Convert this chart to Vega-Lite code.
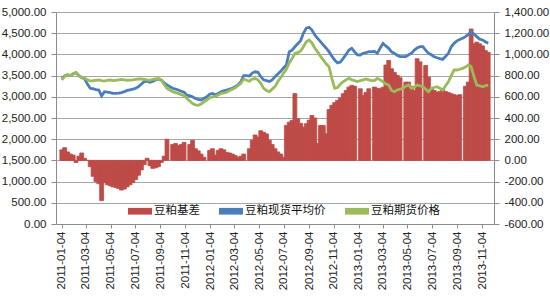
{
  "$schema": "https://vega.github.io/schema/vega-lite/v6.json",
  "width": 438,
  "height": 212,
  "autosize": {"type": "none"},
  "padding": {"left": 56, "top": 12, "right": 56, "bottom": 76},
  "background": "white",
  "config": {
    "view": {"stroke": null},
    "axis": {"labelFont": "Liberation Sans", "labelFontSize": 11.5, "labelColor": "#222", "domainColor": "#8c8c8c", "tickColor": "#8c8c8c", "gridColor": "#a6a6a6", "title": null},
    "legend": {
      "orient": "none", "legendX": 72, "legendY": 187, "direction": "horizontal", "title": null,
      "padding": 0, "columnPadding": 19, "labelOffset": 2, "symbolSize": 576,
      "labelFont": "Noto Sans CJK SC", "labelFontSize": 11.5, "labelColor": "#111",
      "symbolType": "M-1,-0.28H1V0.28H-1Z",
      "symbolStrokeWidth": 0
    }
  },
  "data": {"values": [
    {"d":"2011-01-04","s":3430,"f":3400,"b":100},
    {"d":"2011-01-11","s":3490,"f":3480,"b":120},
    {"d":"2011-01-18","s":3520,"f":3510,"b":80},
    {"d":"2011-01-25","s":3500,"f":3500,"b":60},
    {"d":"2011-02-01","s":3540,"f":3550,"b":50},
    {"d":"2011-02-08","s":3570,"f":3570,"b":-20},
    {"d":"2011-02-15","s":3500,"f":3500,"b":40},
    {"d":"2011-02-22","s":3450,"f":3460,"b":70},
    {"d":"2011-03-01","s":3430,"f":3440,"b":20},
    {"d":"2011-03-08","s":3300,"f":3400,"b":0},
    {"d":"2011-03-15","s":3200,"f":3370,"b":-60},
    {"d":"2011-03-22","s":3190,"f":3380,"b":-150},
    {"d":"2011-03-29","s":3170,"f":3390,"b":-200},
    {"d":"2011-04-05","s":3160,"f":3400,"b":-220},
    {"d":"2011-04-12","s":3020,"f":3380,"b":-380},
    {"d":"2011-04-19","s":3120,"f":3370,"b":-210},
    {"d":"2011-04-26","s":3110,"f":3390,"b":-230},
    {"d":"2011-05-03","s":3100,"f":3396,"b":-240},
    {"d":"2011-05-10","s":3080,"f":3380,"b":-250},
    {"d":"2011-05-17","s":3080,"f":3390,"b":-255},
    {"d":"2011-05-24","s":3085,"f":3400,"b":-265},
    {"d":"2011-05-31","s":3100,"f":3410,"b":-280},
    {"d":"2011-06-07","s":3120,"f":3400,"b":-270},
    {"d":"2011-06-14","s":3150,"f":3390,"b":-250},
    {"d":"2011-06-21","s":3165,"f":3395,"b":-230},
    {"d":"2011-06-28","s":3180,"f":3400,"b":-210},
    {"d":"2011-07-05","s":3200,"f":3410,"b":-180},
    {"d":"2011-07-12","s":3240,"f":3420,"b":-140},
    {"d":"2011-07-19","s":3300,"f":3420,"b":-90},
    {"d":"2011-07-26","s":3360,"f":3410,"b":-40},
    {"d":"2011-08-02","s":3370,"f":3400,"b":20},
    {"d":"2011-08-09","s":3340,"f":3390,"b":-50},
    {"d":"2011-08-16","s":3360,"f":3410,"b":-75},
    {"d":"2011-08-23","s":3400,"f":3420,"b":-70},
    {"d":"2011-08-30","s":3420,"f":3430,"b":-60},
    {"d":"2011-09-06","s":3390,"f":3400,"b":-20},
    {"d":"2011-09-13","s":3330,"f":3290,"b":40},
    {"d":"2011-09-20","s":3280,"f":3200,"b":200},
    {"d":"2011-09-27","s":3240,"f":3160,"b":null},
    {"d":"2011-10-04","s":3200,"f":3120,"b":150},
    {"d":"2011-10-11","s":3180,"f":3100,"b":160},
    {"d":"2011-10-18","s":3160,"f":3080,"b":140},
    {"d":"2011-10-25","s":3130,"f":3050,"b":150},
    {"d":"2011-11-01","s":3110,"f":3030,"b":170},
    {"d":"2011-11-08","s":3040,"f":2960,"b":null},
    {"d":"2011-11-15","s":3020,"f":2900,"b":150},
    {"d":"2011-11-22","s":3000,"f":2840,"b":190},
    {"d":"2011-11-29","s":2960,"f":2810,"b":110},
    {"d":"2011-12-06","s":2940,"f":2800,"b":90},
    {"d":"2011-12-13","s":2925,"f":2830,"b":60},
    {"d":"2011-12-20","s":2960,"f":2880,"b":30},
    {"d":"2011-12-27","s":3000,"f":2920,"b":null},
    {"d":"2012-01-03","s":3060,"f":2980,"b":95},
    {"d":"2012-01-10","s":3080,"f":3000,"b":110},
    {"d":"2012-01-17","s":3050,"f":3010,"b":50},
    {"d":"2012-01-24","s":3080,"f":3040,"b":95},
    {"d":"2012-01-31","s":3120,"f":3080,"b":110},
    {"d":"2012-02-07","s":3140,"f":3090,"b":100},
    {"d":"2012-02-14","s":3160,"f":3110,"b":75},
    {"d":"2012-02-21","s":3180,"f":3150,"b":70},
    {"d":"2012-02-28","s":3200,"f":3180,"b":60},
    {"d":"2012-03-06","s":3240,"f":3210,"b":45},
    {"d":"2012-03-13","s":3280,"f":3260,"b":30},
    {"d":"2012-03-20","s":3360,"f":3320,"b":40},
    {"d":"2012-03-27","s":3500,"f":3420,"b":60},
    {"d":"2012-04-03","s":3500,"f":3390,"b":null},
    {"d":"2012-04-10","s":3490,"f":3370,"b":110},
    {"d":"2012-04-17","s":3560,"f":3420,"b":190},
    {"d":"2012-04-24","s":3590,"f":3430,"b":240},
    {"d":"2012-05-01","s":3580,"f":3400,"b":220},
    {"d":"2012-05-08","s":3475,"f":3320,"b":280},
    {"d":"2012-05-15","s":3400,"f":3200,"b":265},
    {"d":"2012-05-22","s":3380,"f":3150,"b":250},
    {"d":"2012-05-29","s":3360,"f":3120,"b":190},
    {"d":"2012-06-05","s":3400,"f":3180,"b":150},
    {"d":"2012-06-12","s":3475,"f":3239,"b":110},
    {"d":"2012-06-19","s":3540,"f":3360,"b":80},
    {"d":"2012-06-26","s":3600,"f":3450,"b":60},
    {"d":"2012-07-03","s":3680,"f":3560,"b":30},
    {"d":"2012-07-10","s":3750,"f":3650,"b":330},
    {"d":"2012-07-17","s":4060,"f":3800,"b":360},
    {"d":"2012-07-24","s":4100,"f":3900,"b":377},
    {"d":"2012-07-31","s":4180,"f":4020,"b":630},
    {"d":"2012-08-07","s":4250,"f":4040,"b":393},
    {"d":"2012-08-14","s":4320,"f":4080,"b":350},
    {"d":"2012-08-21","s":4497,"f":4182,"b":314},
    {"d":"2012-08-28","s":4620,"f":4300,"b":346},
    {"d":"2012-09-04","s":4640,"f":4340,"b":380},
    {"d":"2012-09-11","s":4575,"f":4270,"b":424},
    {"d":"2012-09-18","s":4460,"f":4150,"b":400},
    {"d":"2012-09-25","s":4380,"f":4060,"b":160},
    {"d":"2012-10-02","s":4300,"f":3960,"b":330},
    {"d":"2012-10-09","s":4222,"f":3868,"b":330},
    {"d":"2012-10-16","s":4150,"f":3780,"b":251},
    {"d":"2012-10-23","s":4064,"f":3710,"b":480},
    {"d":"2012-10-30","s":3960,"f":3436,"b":520},
    {"d":"2012-11-06","s":3868,"f":3200,"b":545},
    {"d":"2012-11-13","s":3800,"f":3220,"b":566},
    {"d":"2012-11-20","s":3820,"f":3300,"b":590},
    {"d":"2012-11-27","s":3907,"f":3356,"b":629},
    {"d":"2012-12-04","s":4000,"f":3400,"b":660},
    {"d":"2012-12-11","s":4104,"f":3436,"b":692},
    {"d":"2012-12-18","s":4143,"f":3400,"b":707},
    {"d":"2012-12-25","s":4060,"f":3380,"b":700},
    {"d":"2013-01-01","s":3990,"f":3360,"b":null},
    {"d":"2013-01-08","s":3986,"f":3380,"b":676},
    {"d":"2013-01-15","s":4025,"f":3400,"b":613},
    {"d":"2013-01-22","s":4040,"f":3420,"b":640},
    {"d":"2013-01-29","s":4064,"f":3400,"b":676},
    {"d":"2013-02-05","s":4064,"f":3380,"b":null},
    {"d":"2013-02-12","s":4070,"f":3380,"b":692},
    {"d":"2013-02-19","s":4025,"f":3436,"b":680},
    {"d":"2013-02-26","s":4150,"f":3400,"b":676},
    {"d":"2013-03-05","s":4261,"f":3356,"b":690},
    {"d":"2013-03-12","s":4200,"f":3300,"b":900},
    {"d":"2013-03-19","s":4143,"f":3278,"b":943},
    {"d":"2013-03-26","s":4060,"f":3150,"b":865},
    {"d":"2013-04-02","s":4025,"f":3120,"b":830},
    {"d":"2013-04-09","s":3980,"f":3160,"b":802},
    {"d":"2013-04-16","s":3946,"f":3180,"b":780},
    {"d":"2013-04-23","s":3946,"f":3200,"b":null},
    {"d":"2013-04-30","s":3946,"f":3250,"b":739},
    {"d":"2013-05-07","s":3990,"f":3278,"b":739},
    {"d":"2013-05-14","s":4025,"f":3200,"b":700},
    {"d":"2013-05-21","s":4100,"f":3230,"b":660},
    {"d":"2013-05-28","s":4150,"f":3278,"b":959},
    {"d":"2013-06-04","s":4182,"f":3260,"b":930},
    {"d":"2013-06-11","s":4182,"f":3239,"b":null},
    {"d":"2013-06-18","s":4100,"f":3180,"b":896},
    {"d":"2013-06-25","s":4025,"f":3120,"b":786},
    {"d":"2013-07-02","s":3990,"f":3200,"b":676},
    {"d":"2013-07-09","s":3946,"f":3220,"b":660},
    {"d":"2013-07-16","s":3920,"f":3239,"b":644},
    {"d":"2013-07-23","s":3900,"f":3200,"b":650},
    {"d":"2013-07-30","s":3883,"f":3160,"b":676},
    {"d":"2013-08-06","s":3950,"f":3260,"b":650},
    {"d":"2013-08-13","s":4025,"f":3356,"b":640},
    {"d":"2013-08-20","s":4180,"f":3500,"b":629},
    {"d":"2013-08-27","s":4261,"f":3632,"b":620},
    {"d":"2013-09-03","s":4320,"f":3632,"b":613},
    {"d":"2013-09-10","s":4350,"f":3650,"b":620},
    {"d":"2013-09-17","s":4379,"f":3671,"b":null},
    {"d":"2013-09-24","s":4420,"f":3700,"b":700},
    {"d":"2013-10-01","s":4470,"f":3750,"b":739},
    {"d":"2013-10-08","s":4536,"f":3710,"b":1240},
    {"d":"2013-10-15","s":4480,"f":3475,"b":1100},
    {"d":"2013-10-22","s":4420,"f":3278,"b":1116},
    {"d":"2013-10-29","s":4360,"f":3260,"b":1100},
    {"d":"2013-11-05","s":4340,"f":3239,"b":1080},
    {"d":"2013-11-12","s":4300,"f":3260,"b":1037},
    {"d":"2013-11-19","s":4261,"f":3278,"b":1020}
  ]},
  "encoding": {
    "x": {
      "field": "d", "type": "temporal",
      "scale": {"type": "utc", "domain": [{"year": 2011, "month": 1, "date": 2, "utc": true}, {"year": 2013, "month": 11, "date": 21, "utc": true}]},
      "axis": {
        "values": [
          {"year": 2011, "month": 1, "date": 4, "utc": true},
          {"year": 2011, "month": 3, "date": 4, "utc": true},
          {"year": 2011, "month": 5, "date": 4, "utc": true},
          {"year": 2011, "month": 7, "date": 4, "utc": true},
          {"year": 2011, "month": 9, "date": 4, "utc": true},
          {"year": 2011, "month": 11, "date": 4, "utc": true},
          {"year": 2012, "month": 1, "date": 4, "utc": true},
          {"year": 2012, "month": 3, "date": 4, "utc": true},
          {"year": 2012, "month": 5, "date": 4, "utc": true},
          {"year": 2012, "month": 7, "date": 4, "utc": true},
          {"year": 2012, "month": 9, "date": 4, "utc": true},
          {"year": 2012, "month": 11, "date": 4, "utc": true},
          {"year": 2013, "month": 1, "date": 4, "utc": true},
          {"year": 2013, "month": 3, "date": 4, "utc": true},
          {"year": 2013, "month": 5, "date": 4, "utc": true},
          {"year": 2013, "month": 7, "date": 4, "utc": true},
          {"year": 2013, "month": 9, "date": 4, "utc": true},
          {"year": 2013, "month": 11, "date": 4, "utc": true}
        ],
        "format": "%Y-%m-%d", "labelAngle": -90, "grid": false, "tickSize": 4, "labelPadding": 3
      }
    }
  },
  "layer": [
    {
      "mark": {"type": "bar", "size": 3.9, "stroke": "#BE4B48", "strokeWidth": 0.8, "cornerRadius": 0},
      "encoding": {
        "y": {"field": "b", "type": "quantitative", "scale": {"domain": [-600, 1400], "nice": false},
          "axis": {"orient": "right", "values": [-600, -400, -200, 0, 200, 400, 600, 800, 1000, 1200, 1400], "labelExpr": "replace(format(datum.value, ',.2f'), '\u2212', '-')", "grid": false, "tickSize": 5, "labelPadding": 5}},
        "color": {"datum": "豆粕基差", "type": "nominal",
          "scale": {"domain": ["豆粕基差", "豆粕现货平均价", "豆粕期货价格"], "range": ["#BE4B48", "#4A7EBB", "#9BBB59"]},
          "legend": {
            "encode": {"symbols": {"update": {
              "shape": {"signal": "datum.value === '豆粕基差' ? 'M-1,-0.28H1V0.28H-1Z' : 'M-1,-0.12H1V0.12H-1Z'"},
              "fill": {"signal": "scale('color', datum.value)"},
              "fillOpacity": {"value": 1},
              "strokeWidth": {"value": 0}
            }}}
          }}
      }
    },
    {
      "layer": [
        {
          "mark": {"type": "line", "strokeWidth": 2.8},
          "encoding": {"y": {"field": "s", "type": "quantitative"}, "color": {"datum": "豆粕现货平均价", "type": "nominal"}}
        },
        {
          "mark": {"type": "line", "strokeWidth": 2.8},
          "encoding": {"y": {"field": "f", "type": "quantitative"}, "color": {"datum": "豆粕期货价格", "type": "nominal"}}
        }
      ],
      "encoding": {
        "y": {"type": "quantitative",
          "scale": {"domain": [0, 5000], "nice": false},
          "axis": {"orient": "left", "values": [0, 500, 1000, 1500, 2000, 2500, 3000, 3500, 4000, 4500, 5000], "format": ",.2f", "grid": true, "tickSize": 5, "labelPadding": 5}}
      }
    }
  ],
  "resolve": {"scale": {"y": "independent"}}
}
